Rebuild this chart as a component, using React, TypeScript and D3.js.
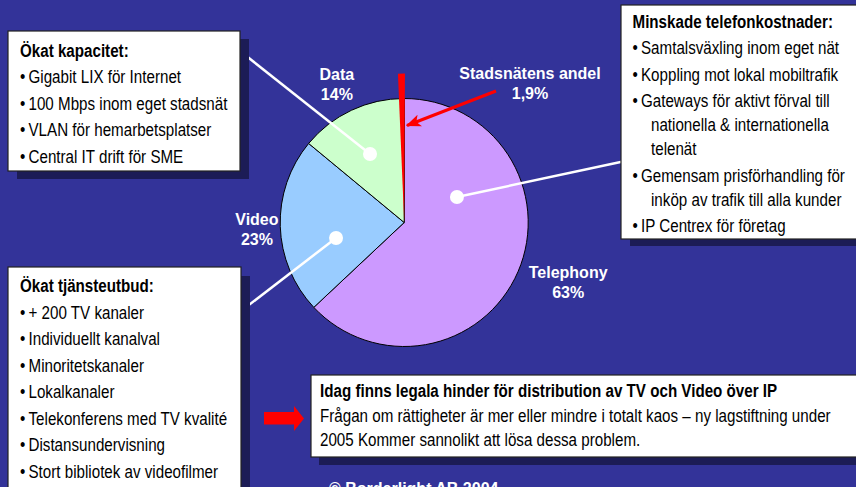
import { useEffect, useRef } from 'react';
import * as d3 from 'd3';

// pie data
const categories = ['Telephony', 'Video', 'Data'];
const shares = [63, 23, 14];
const shareLabels = ['63%', '23%', '14%'];
const sliceColors = ['#cc99ff', '#99ccff', '#ccffcc'];
const cityNetName = 'Stadsnätens andel';
const cityNetShareLabel = '1,9%';

// text boxes
const capacityTitle = 'Ökat kapacitet:';
const capacityItems = [
  ['Gigabit LIX för Internet'],
  ['100 Mbps inom eget stadsnät'],
  ['VLAN för hemarbetsplatser'],
  ['Central IT drift för SME'],
];
const phoneTitle = 'Minskade telefonkostnader:';
const phoneItems = [
  ['Samtalsväxling inom eget nät'],
  ['Koppling mot lokal mobiltrafik'],
  ['Gateways för aktivt förval till', 'nationella & internationella', 'telenät'],
  ['Gemensam prisförhandling för', 'inköp av trafik till alla kunder'],
  ['IP Centrex för företag'],
];
const serviceTitle = 'Ökat tjänsteutbud:';
const serviceItems = [
  ['+ 200 TV kanaler'],
  ['Individuellt kanalval'],
  ['Minoritetskanaler'],
  ['Lokalkanaler'],
  ['Telekonferens med TV kvalité'],
  ['Distansundervisning'],
  ['Stort bibliotek av videofilmer'],
];
const noticeTitle = 'Idag finns legala hinder för distribution av TV och Video över IP';
const noticeLines = [
  'Frågan om rättigheter är mer eller mindre i totalt kaos – ny lagstiftning under',
  '2005 Kommer sannolikt att lösa dessa problem.',
];
const footer = '© Borderlight AB 2004';

const W = 856;
const H = 487;
const BG = '#333399';
const SHADOW = '#1c1c56';
const SANS = '"Liberation Sans", Arial, sans-serif';
const NARROW_SCALE = 0.82; // no Arial Narrow here, so squeeze Liberation Sans

const App = () => {
  const ref = useRef(null);

  useEffect(() => {
    const svg = d3.select(ref.current);
    svg.selectAll('*').remove();
    svg.attr('width', W).attr('height', H);

    svg.append('rect').attr('width', W).attr('height', H).attr('fill', BG);

    const cx = 404.2;
    const cy = 222.5;
    const radius = 124;
    const polar = (deg, r) => {
      const a = (deg * Math.PI) / 180;
      return [cx + r * Math.sin(a), cy - r * Math.cos(a)];
    };

    const pieData = d3.pie().sort(null).value((d) => d)(shares);
    const arc = d3.arc().innerRadius(0).outerRadius(radius);
    const g = svg.append('g').attr('transform', `translate(${cx},${cy})`);
    g.selectAll('path.slice')
      .data(pieData)
      .enter().append('path')
      .attr('class', 'slice')
      .attr('d', arc)
      .attr('fill', (d, i) => sliceColors[i])
      .attr('stroke', '#000')
      .attr('stroke-width', 1);

    // red sliver for the city network share
    g.append('path')
      .attr('d', d3.arc()({ innerRadius: 0, outerRadius: 149, startAngle: -0.042, endAngle: 0.005 }))
      .attr('fill', '#ff0000');

    // leader lines (drawn under the boxes)
    const connectors = [
      { dot: polar(333.5, 76.6), to: [235, 47] },
      { dot: polar(257.2, 69.9), to: [232, 318] },
      { dot: polar(64.2, 58.6), to: [630, 160] },
    ];
    connectors.forEach((c) => {
      svg.append('line')
        .attr('x1', c.dot[0]).attr('y1', c.dot[1])
        .attr('x2', c.to[0]).attr('y2', c.to[1])
        .attr('stroke', '#fff').attr('stroke-width', 2.5);
      svg.append('circle')
        .attr('cx', c.dot[0]).attr('cy', c.dot[1])
        .attr('r', 7).attr('fill', '#fff');
    });

    // slice labels
    const labelPos = { Telephony: [108.8, 173.2], Video: [269.2, 147.3], Data: [334.75, 157.8] };
    categories.forEach((name, i) => {
      const [x, y] = polar(labelPos[name][0], labelPos[name][1]);
      const t = svg.append('text')
        .attr('text-anchor', 'middle')
        .attr('font-family', SANS).attr('font-weight', 'bold')
        .attr('font-size', 16).attr('fill', '#fff');
      t.append('tspan').attr('x', x).attr('y', y).text(name);
      t.append('tspan').attr('x', x).attr('y', y + 20).text(shareLabels[i]);
    });
    const cityLabel = svg.append('text')
      .attr('text-anchor', 'middle')
      .attr('font-family', SANS).attr('font-weight', 'bold')
      .attr('font-size', 16).attr('fill', '#fff');
    cityLabel.append('tspan').attr('x', 530).attr('y', 79).text(cityNetName);
    cityLabel.append('tspan').attr('x', 530).attr('y', 99).text(cityNetShareLabel);

    // red arrow to sliver
    svg.append('defs').append('marker')
      .attr('id', 'head')
      .attr('viewBox', '0 0 12 10')
      .attr('refX', 11).attr('refY', 5)
      .attr('markerWidth', 5).attr('markerHeight', 4.5)
      .attr('markerUnits', 'strokeWidth')
      .attr('orient', 'auto')
      .append('path').attr('d', 'M0,0 L12,5 L0,10 L3,5 Z').attr('fill', '#ff0000');
    svg.append('line')
      .attr('x1', 496).attr('y1', 91)
      .attr('x2', 407).attr('y2', 125.5)
      .attr('stroke', '#ff0000').attr('stroke-width', 3)
      .attr('marker-end', 'url(#head)');

    // boxes
    const box = (x, y, w, h, sx, sy) => {
      svg.append('rect').attr('x', x + sx).attr('y', y + sy)
        .attr('width', w).attr('height', h).attr('fill', SHADOW);
      svg.append('rect').attr('x', x).attr('y', y)
        .attr('width', w).attr('height', h)
        .attr('fill', '#fff').attr('stroke', '#222').attr('stroke-width', 1.2);
    };

    const narrowText = (x, y, str, bold) => {
      svg.append('text')
        .attr('transform', `translate(${x},${y}) scale(${NARROW_SCALE},1)`)
        .attr('font-family', SANS)
        .attr('font-weight', bold ? 'bold' : 'normal')
        .attr('font-size', 18.5).attr('fill', '#000')
        .text(str);
    };

    const list = (title, items, x, y0, step, wrapStep, indent) => {
      narrowText(x, y0, title, true);
      let y = y0;
      items.forEach((lines) => {
        y += step;
        narrowText(x, y, '•', false);
        lines.forEach((line, j) => {
          if (j > 0) y += wrapStep;
          narrowText(x + 8.5 + (j > 0 ? indent : 0), y, line, false);
        });
      });
    };

    box(8, 31, 232, 140, 9, 8);
    list(capacityTitle, capacityItems, 20, 56.7, 26.5, 24, 0);

    box(621, 5, 250, 234, 9, 7);
    list(phoneTitle, phoneItems, 632.5, 27.5, 26.5, 24, 10);

    box(8, 267, 233, 260, 9, 9);
    list(serviceTitle, serviceItems, 20, 292, 26.5, 24, 0);

    box(311, 375, 560, 82, 8, 8);
    narrowText(320, 396.5, noticeTitle, true);
    noticeLines.forEach((line, i) => {
      narrowText(320, 421.5 + i * 24.5, line, false);
    });

    // block arrow pointing at the notice
    svg.append('path')
      .attr('d', d3.line()([[264, 412], [294, 412], [294, 406], [304, 418.5], [294, 431], [294, 424.5], [264, 424.5]]) + 'Z')
      .attr('fill', '#ff0000');

    svg.append('text')
      .attr('x', 329).attr('y', 494)
      .attr('font-family', SANS).attr('font-weight', 'bold')
      .attr('font-size', 16).attr('fill', '#fff')
      .text(footer);
  }, []);

  return <svg ref={ref} style={{ position: 'absolute', left: 0, top: 0, display: 'block' }}></svg>;
};

export default App;
